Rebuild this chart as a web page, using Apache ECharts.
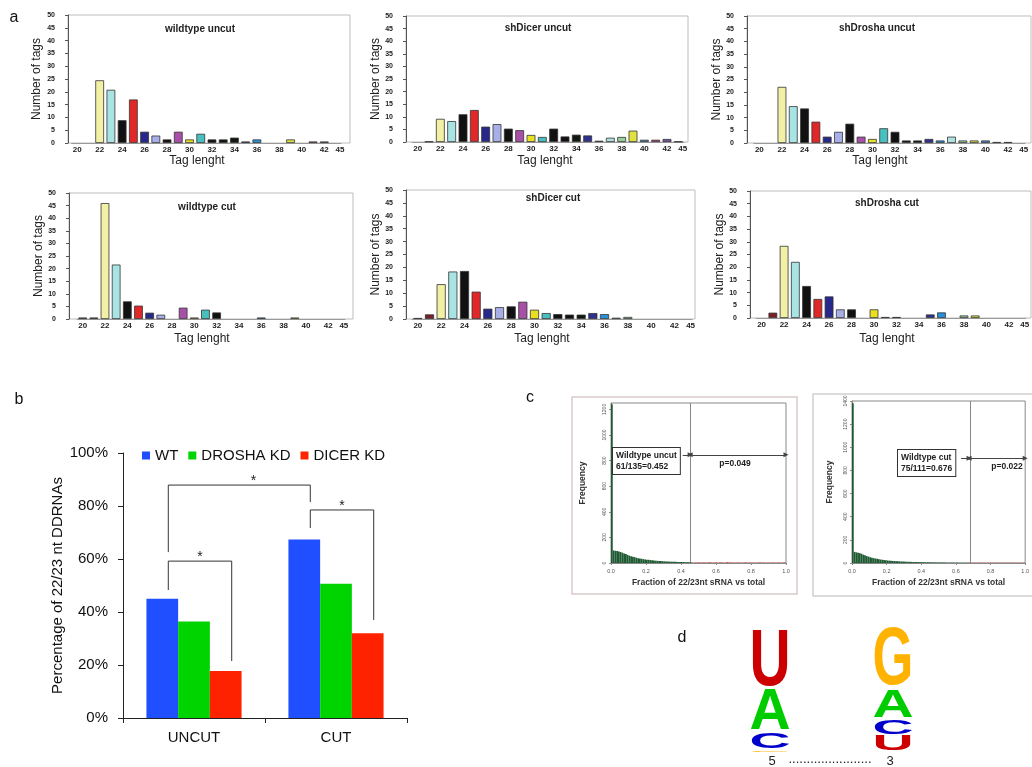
<!DOCTYPE html>
<html>
<head>
<meta charset="utf-8">
<script src="https://cdn.jsdelivr.net/npm/echarts@6/dist/echarts.min.js"></script>
<style>
html, body { margin: 0; padding: 0; background: #fff; }
#main { width: 1032px; height: 767px; }
</style>
</head>
<body>
<div id="main"></div>
<script>
var FONT = 'Liberation Sans, Arial, sans-serif'

/* panel a : tag length histograms */
var tagLengths = [20, 21, 22, 23, 24, 25, 26, 27, 28, 29, 30, 31, 32, 33, 34, 35, 36, 37, 38, 39, 40, 41, 42, 43]
var tagTickLabels = ['20', '', '22', '', '24', '', '26', '', '28', '', '30', '', '32', '', '34', '', '36', '', '38', '', '40', '', '42', '45']
var tagColors = ['#3c3c8c', '#7a1f2a', '#f2f0a4', '#a8e4e4', '#111111', '#e02828', '#28288c', '#a8aee8',
    '#111111', '#a850a8', '#e8e020', '#48c0c0', '#111111', '#111111', '#101810', '#303090',
    '#2890d8', '#b0e0e0', '#98d098', '#e0e040', '#4888c8', '#c04070', '#7050a0', '#6080a0']
var wtUncut = [0, 0, 24.5, 20.8, 8.9, 17, 4.4, 2.9, 1.4, 4.4, 1.4, 3.6, 1.4, 1.4, 2.1, 0.6, 1.4, 0, 0, 1.4, 0, 0.6, 0.6, 0]
var dicerUncut = [0, 0.2, 9.2, 8.3, 11, 12.7, 6.1, 7.1, 5.3, 4.7, 2.8, 2.0, 5.3, 2.2, 2.9, 2.6, 0.5, 1.7, 2.0, 4.5, 0.9, 0.9, 1.2, 0.2]
var droshaUncut = [0, 0, 22.1, 14.5, 13.6, 8.4, 2.5, 4.4, 7.6, 2.5, 1.6, 5.8, 4.4, 1.0, 1.0, 1.6, 1.0, 2.5, 1.0, 1.0, 1.0, 0.4, 0.4, 0]
var wtCut = [0.6, 0.6, 46, 21.6, 7.0, 5.3, 2.5, 1.7, 0, 4.5, 0.6, 3.7, 2.6, 0, 0, 0, 0.6, 0, 0, 0.6, 0, 0, 0, 0]
var dicerCut = [0.4, 1.8, 13.5, 18.4, 18.6, 10.6, 4.0, 4.6, 4.9, 6.7, 3.6, 2.3, 1.9, 1.7, 1.7, 2.3, 1.9, 0.5, 0.8, 0, 0, 0, 0, 0]
var droshaCut = [0, 2.1, 28.4, 22.1, 12.6, 7.5, 8.5, 3.4, 3.4, 0, 3.4, 0.4, 0.4, 0, 0, 1.4, 2.2, 0, 1.0, 1.0, 0, 0, 0, 0]

/* panel b : percentage of 22/23 nt DDRNAs */
var conditions = ['UNCUT', 'CUT']
var wtPct = [45.0, 67.4]
var droshaPct = [36.4, 50.7]
var dicerPct = [17.7, 32.0]
// brackets: [group, bar] -> [group, bar], heights in %
var sigBrackets = [
    { from: [0, 0], to: [0, 2], top: 59.2, fromEnd: 48.3, toEnd: 21.5, star: 0.5 },
    { from: [0, 0], to: [1, 0], top: 87.9, fromEnd: 62.6, toEnd: 81.5, star: 0.6 },
    { from: [1, 0], to: [1, 2], top: 78.5, fromEnd: 71.7, toEnd: 37.0, star: 0.5 }
]

/* panel c : fraction histograms, 0.01 bins */
var uncutFrac = 0.452
var uncutBelow = [1240, 98, 95, 93, 90, 86, 80, 74, 70, 63, 57, 52, 48, 46, 41, 38, 35, 33, 30, 28,
    26, 25, 23, 21, 20, 18, 17, 16, 15, 14, 13, 12, 12, 11, 10, 10, 9, 9, 8, 8, 7, 7, 6, 6, 5, 5]
var uncutAbove = [3, 2, 4, 3, 5, 2, 3, 4, 2, 3, 6, 3, 2, 4, 3, 2, 5, 3, 2, 3, 8, 4, 3, 2, 3, 2, 4,
    3, 2, 2, 3, 4, 2, 3, 2, 3, 2, 2, 3, 4, 2, 3, 2, 2, 3, 2, 3, 2, 2, 3, 2, 2, 3, 4]
var cutFrac = 0.676
var cutBelow = [1380, 96, 92, 88, 85, 80, 72, 66, 60, 55, 50, 46, 42, 39, 36, 33, 30, 28, 26, 24,
    22, 20, 19, 18, 17, 16, 15, 14, 13, 12, 12, 11, 10, 10, 9, 9, 8, 8, 8, 7, 7, 7, 6, 6, 6, 5, 5, 5,
    5, 4, 4, 4, 4, 4, 3, 3, 3, 3, 3, 3, 3, 2, 2, 2, 2, 2, 2, 2]
var cutAbove = [3, 2, 2, 3, 2, 4, 2, 2, 3, 2, 2, 3, 2, 2, 2, 3, 2, 2, 2, 3, 2, 2, 2, 2, 3, 2, 2, 2, 2, 2, 2, 2]

/* panel d : logo, letters bottom to top, heights in bits */
var logo5Letters = ['G', 'C', 'A', 'U']
var logo5Bits = [0.03, 0.27, 0.70, 0.98]
var logo3Letters = ['U', 'C', 'A', 'G']
var logo3Bits = [0.27, 0.25, 0.48, 1.0]
var letterColors = { A: '#00cc00', C: '#0000cc', G: '#ffb300', U: '#cc0000' }

var histPanels = [
    { title: 'wildtype uncut', values: wtUncut, frame: [68, 15, 350, 143], plot: [71.6, 341.1], titlePos: [200, 29], namePos: [197, 161], yNameX: 37 },
    { title: 'shDicer uncut', values: dicerUncut, frame: [406, 16, 688, 142], plot: [412, 684], titlePos: [538, 28], namePos: [545, 161], yNameX: 378 },
    { title: 'shDrosha uncut', values: droshaUncut, frame: [747, 16, 1031, 143], plot: [753.7, 1025], titlePos: [877, 28], namePos: [880, 161], yNameX: 723 },
    { title: 'wildtype cut', values: wtCut, frame: [69, 193, 353, 319], plot: [77.1, 345], titlePos: [207, 207], namePos: [202, 339], yNameX: 41 },
    { title: 'shDicer cut', values: dicerCut, frame: [406, 190, 695, 319], plot: [412, 692], titlePos: [553, 198], namePos: [542, 339], yNameX: 378 },
    { title: 'shDrosha cut', values: droshaCut, frame: [750, 191, 1031, 318], plot: [756, 1030], titlePos: [887, 203], namePos: [887, 339], yNameX: 723 }
]

var grids = [], xAxes = [], yAxes = [], series = [], graphics = []

histPanels.forEach(function (p, i) {
    var f = p.frame
    grids.push({ left: p.plot[0], top: f[1], width: p.plot[1] - p.plot[0], height: f[3] - f[1] })
    xAxes.push({
        gridIndex: i,
        type: 'category',
        data: tagLengths.map(function (t, k) {
            var item = { value: String(t) }
            if (k === tagLengths.length - 1) item.textStyle = { align: 'left' }
            return item
        }),
        axisLine: { lineStyle: { color: '#999' } },
        axisTick: { show: false },
        axisLabel: {
            interval: 0,
            margin: 3,
            fontSize: 8,
            fontWeight: 'bold',
            fontFamily: FONT,
            color: '#222',
            formatter: function (v, idx) { return tagTickLabels[idx] }
        }
    })
    yAxes.push({
        gridIndex: i,
        type: 'value',
        min: 0,
        max: 50,
        interval: 5,
        offset: p.plot[0] - f[0],
        splitLine: { show: false },
        axisLine: { show: true, lineStyle: { color: '#555' } },
        axisTick: { show: true, length: 3, lineStyle: { color: '#555' } },
        axisLabel: { fontSize: 7, fontWeight: 'bold', fontFamily: FONT, color: '#222', margin: 13 },
        name: 'Number of tags',
        nameLocation: 'middle',
        nameGap: f[0] - p.yNameX - 6,
        nameTextStyle: { fontSize: 12, fontFamily: FONT, color: '#222' }
    })
    series.push({
        type: 'bar',
        xAxisIndex: i,
        yAxisIndex: i,
        barCategoryGap: '22%',
        data: p.values.map(function (v, k) {
            return { value: v, itemStyle: { color: tagColors[k], borderColor: '#333', borderWidth: v > 0 ? 0.8 : 0 } }
        })
    })
    graphics.push({
        type: 'rect', silent: true, z: -10,
        shape: { x: f[0], y: f[1], width: f[2] - f[0], height: f[3] - f[1] },
        style: { fill: 'none', stroke: '#bdbdbd', lineWidth: 1 }
    })
    graphics.push({
        type: 'text', x: p.titlePos[0], y: p.titlePos[1],
        style: { text: p.title, fontSize: 10, fontWeight: 'bold', fontFamily: FONT, fill: '#222', align: 'center', verticalAlign: 'middle' }
    })
    graphics.push({
        type: 'text', x: p.namePos[0], y: p.namePos[1],
        style: { text: 'Tag lenght', fontSize: 12, fontFamily: FONT, fill: '#222', align: 'center', verticalAlign: 'middle' }
    })
})

// panel b
var B = 6
grids.push({ left: 123, top: 453, width: 284, height: 265 })
xAxes.push({
    gridIndex: B, type: 'category', data: conditions,
    axisLine: { lineStyle: { color: '#222' } },
    axisTick: { show: true, length: 5, lineStyle: { color: '#222' } },
    axisLabel: { fontSize: 15, fontFamily: FONT, color: '#111', margin: 12 }
})
yAxes.push({
    gridIndex: B, type: 'value', min: 0, max: 100, interval: 20,
    splitLine: { show: false },
    axisLine: { show: true, lineStyle: { color: '#222' } },
    axisTick: { show: true, length: 5, lineStyle: { color: '#222' } },
    axisLabel: { formatter: '{value}%', fontSize: 15, fontFamily: FONT, color: '#111', margin: 15 },
    name: 'Percentage of 22/23 nt DDRNAs', nameLocation: 'middle', nameGap: 57,
    nameTextStyle: { fontSize: 15, fontFamily: FONT, color: '#111' }
})
var bSeries = [['WT', wtPct, '#1f4fff'], ['DROSHA KD', droshaPct, '#00d400'], ['DICER KD', dicerPct, '#ff2200']]
bSeries.forEach(function (s) {
    series.push({
        name: s[0], type: 'bar', xAxisIndex: B, yAxisIndex: B,
        barGap: 0, barCategoryGap: '33%',
        itemStyle: { color: s[2] },
        data: s[1]
    })
})

// panel c
function fracData (below, above) {
    var out = []
    below.forEach(function (v, k) {
        out.push({ value: [(k + 0.5) * 0.01, v], itemStyle: { color: '#1e5a32' } })
    })
    above.forEach(function (v, k) {
        out.push({ value: [(below.length + k + 0.5) * 0.01, v], itemStyle: { color: '#d85050' } })
    })
    return out
}
var cPanels = [
    { grid: { left: 611, top: 403, width: 175, height: 160 }, yMax: 1250, yNameGap: 24, below: uncutBelow, above: uncutAbove, frac: uncutFrac, arrowY: 845, boxEnd: 0.41 },
    { grid: { left: 852, top: 401, width: 176, height: 162 }, yMax: 1400, yNameGap: 18, below: cutBelow, above: cutAbove, frac: cutFrac, arrowY: 905, boxEnd: 0.63 }
]
cPanels.forEach(function (c, j) {
    var gi = 7 + j
    grids.push(Object.assign({ show: true, borderColor: '#888', borderWidth: 1, backgroundColor: '#fff' }, c.grid))
    xAxes.push({
        gridIndex: gi, type: 'value', min: 0, max: 1, interval: 0.2,
        splitLine: { show: false },
        axisLine: { lineStyle: { color: '#888' } },
        axisTick: { show: true, length: 2, lineStyle: { color: '#888' } },
        axisLabel: { fontSize: 5.5, fontFamily: FONT, color: '#555', margin: 5, formatter: function (v) { return v.toFixed(1) } },
        name: 'Fraction of 22/23nt sRNA vs total', nameLocation: 'middle', nameGap: 15,
        nameTextStyle: { fontSize: 8.5, fontWeight: 'bold', fontFamily: FONT, color: '#333' }
    })
    yAxes.push({
        gridIndex: gi, type: 'value', min: 0, max: c.yMax, interval: 200,
        splitLine: { show: false },
        axisLine: { show: true, lineStyle: { color: '#888' } },
        axisTick: { show: true, length: 2, lineStyle: { color: '#888' } },
        axisLabel: {
            rotate: 90, fontSize: 5, fontFamily: FONT, color: '#555', margin: 4,
            showMaxLabel: c.yMax % 200 === 0,
            formatter: function (v) { return String(v) }
        },
        name: 'Frequency', nameLocation: 'middle', nameGap: c.yNameGap,
        nameTextStyle: { fontSize: 8.5, fontWeight: 'bold', fontFamily: FONT, color: '#333' }
    })
    series.push({
        type: 'bar', xAxisIndex: gi, yAxisIndex: gi,
        barCategoryGap: '0%',
        z: 5,
        data: fracData(c.below, c.above),
        markLine: {
            silent: true,
            symbol: ['none', 'none'],
            label: { show: false },
            lineStyle: { color: '#444', type: 'solid', width: 1 },
            data: [
                { xAxis: c.frac, lineStyle: { color: '#888', width: 1 } },
                [{ coord: [c.boxEnd, c.arrowY], symbol: 'none' }, { coord: [c.frac, c.arrowY], symbol: 'triangle', symbolSize: 5 }],
                [{ coord: [c.frac, c.arrowY], symbol: 'triangle', symbolSize: 5 }, { coord: [1, c.arrowY], symbol: 'triangle', symbolSize: 5 }]
            ]
        }
    })
})

var chart = echarts.init(document.getElementById('main'))
chart.setOption({
    animation: false,
    backgroundColor: '#fff',
    legend: {
        data: ['WT', 'DROSHA KD', 'DICER KD'],
        left: 137, top: 443,
        icon: 'rect', itemWidth: 8, itemHeight: 8, itemGap: 10,
        textStyle: { fontSize: 15, fontFamily: FONT, color: '#111' }
    },
    grid: grids,
    xAxis: xAxes,
    yAxis: yAxes,
    series: series
})

// panel b significance brackets
var band = 284 / conditions.length
var barW = band * 0.67 / 3
function legX (ref) {
    return chart.convertToPixel({ xAxisIndex: B }, conditions[ref[0]]) + (ref[1] - 1) * barW + 6
}
function pctY (v) { return chart.convertToPixel({ yAxisIndex: B }, v) }
sigBrackets.forEach(function (s) {
    var x1 = legX(s.from), x2 = legX(s.to), yt = pctY(s.top)
    graphics.push({
        type: 'polyline', silent: true,
        shape: { points: [[x1, pctY(s.fromEnd)], [x1, yt], [x2, yt], [x2, pctY(s.toEnd)]] },
        style: { fill: 'none', stroke: '#333', lineWidth: 1 }
    })
    graphics.push({
        type: 'text', x: x1 + (x2 - x1) * s.star, y: yt - 4,
        style: { text: '*', fontSize: 14, fontFamily: FONT, fill: '#222', align: 'center', verticalAlign: 'middle' }
    })
})

// panel c frames and labels
graphics.push({ type: 'rect', silent: true, z: -10, shape: { x: 572, y: 397, width: 225, height: 197 }, style: { fill: 'none', stroke: '#d9caca', lineWidth: 1.5 } })
graphics.push({ type: 'rect', silent: true, z: -10, shape: { x: 813, y: 394, width: 230, height: 202 }, style: { fill: 'none', stroke: '#d0d0d0', lineWidth: 1.5 } })
var boxStyle = { fontSize: 8.5, fontWeight: 'bold', fontFamily: FONT, fill: '#222', backgroundColor: '#fff', borderColor: '#333', borderWidth: 1, padding: [2, 3], lineHeight: 11 }
graphics.push({ type: 'text', x: 613, y: 448, z: 100, style: Object.assign({ text: 'Wildtype uncut\n61/135=0.452' }, boxStyle) })
graphics.push({ type: 'text', x: 898, y: 450, z: 100, style: Object.assign({ text: 'Wildtype cut\n75/111=0.676' }, boxStyle) })
graphics.push({ type: 'text', x: 735, y: 464, style: { text: 'p=0.049', fontSize: 8.5, fontWeight: 'bold', fontFamily: FONT, fill: '#222', align: 'center', verticalAlign: 'middle' } })
graphics.push({ type: 'text', x: 1007, y: 467, style: { text: 'p=0.022', fontSize: 8.5, fontWeight: 'bold', fontFamily: FONT, fill: '#222', align: 'center', verticalAlign: 'middle' } })

// panel d logo
function logoColumn (letters, bits, cx) {
    var base = 752, pxPerBit = 60
    letters.forEach(function (l, k) {
        var h = bits[k] * pxPerBit
        graphics.push({
            type: 'text', silent: true,
            x: cx, y: base - h / 2,
            scaleX: 41 / (l === 'G' ? 78 : 72),
            scaleY: h / 74,
            style: { text: l, fontSize: 100, fontWeight: 'bold', fontFamily: FONT, fill: letterColors[l], align: 'center', verticalAlign: 'middle' }
        })
        base -= h
    })
}
logoColumn(logo5Letters, logo5Bits, 770)
logoColumn(logo3Letters, logo3Bits, 893)
graphics.push({ type: 'text', x: 772, y: 761, style: { text: '5', fontSize: 13, fontFamily: FONT, fill: '#222', align: 'center', verticalAlign: 'middle' } })
graphics.push({ type: 'text', x: 830, y: 759, style: { text: '.......................', fontSize: 13, fontFamily: FONT, fill: '#222', align: 'center', verticalAlign: 'middle' } })
graphics.push({ type: 'text', x: 890, y: 761, style: { text: '3', fontSize: 13, fontFamily: FONT, fill: '#222', align: 'center', verticalAlign: 'middle' } })

// panel letters
var panelLetters = [['a', 14, 18], ['b', 19, 400], ['c', 530, 398], ['d', 682, 638]]
panelLetters.forEach(function (p) {
    graphics.push({ type: 'text', x: p[1], y: p[2], style: { text: p[0], fontSize: 16, fontFamily: FONT, fill: '#111', align: 'center', verticalAlign: 'middle' } })
})

chart.setOption({ graphic: graphics })
window.onresize = chart.resize
</script>
</body>
</html>
